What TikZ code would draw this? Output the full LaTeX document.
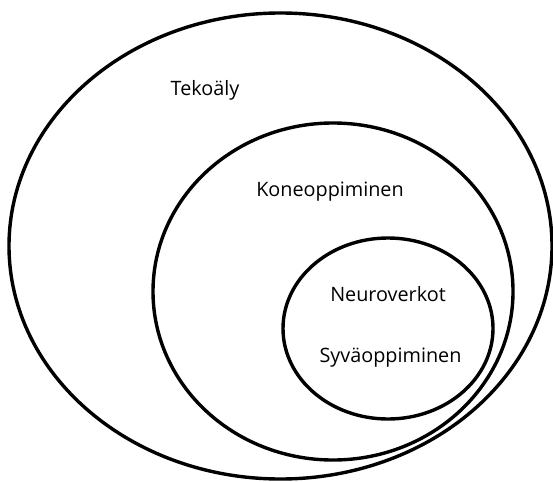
\documentclass[tikz,border=0pt]{standalone}
\usepackage{fontspec}
\setmainfont{Open Sans}
\begin{document}
\begin{tikzpicture}[x=1pt,y=-1pt,
  ring/.style={draw=black,line width=3.4pt},
  lbl/.style={anchor=base,font=\fontsize{19.8}{23}\selectfont,text=black,inner sep=0pt}]
\useasboundingbox[fill=white] (0,0) rectangle (553,481);
\draw[ring] (280.5,246) ellipse [x radius=271.5, y radius=233];
\draw[ring] (333,291.5) ellipse [x radius=180, y radius=168.5];
\draw[ring] (388,328.5) ellipse [x radius=105, y radius=90.5];
\node[lbl] (ai) at (205,96) {Tekoäly};
\node[lbl] (ml) at (330,196) {Koneoppiminen};
\node[lbl] (nn) at (388,301) {Neuroverkot};
\node[lbl] (dl) at (390.5,362) {Syväoppiminen};
\end{tikzpicture}
\end{document}
